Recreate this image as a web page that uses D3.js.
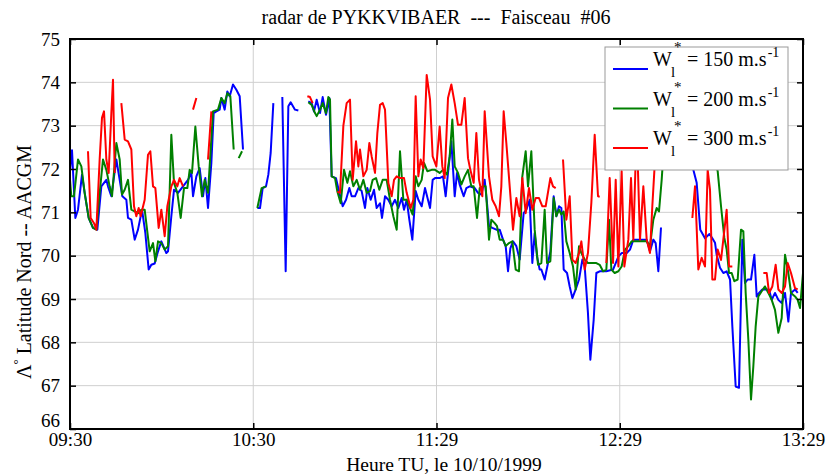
<!DOCTYPE html>
<html><head><meta charset="utf-8">
<script src="https://cdn.jsdelivr.net/npm/d3@7"></script>
<style>body{margin:0;background:#fff}svg{display:block}text{font-family:"Liberation Serif","Times New Roman",serif;fill:#000}</style>
</head><body><svg id="c" width="829" height="476"></svg>
<script>
// time in minutes after 09:30 UT, latitude in degrees AACGM; null = data gap
const tickMinutes = [0, 59.75, 119.5, 179.25, 239];
const tickLabels = ["09:30", "10:30", "11:29", "12:29", "13:29"];
const latTicks = [66, 67, 68, 69, 70, 71, 72, 73, 74, 75];
const seriesNames = ["150", "200", "300"];
const seriesColors = ["#0000ff", "#008000", "#ff0000"];

const blue150 = [
[0,71.98],[0.65,72.43],[1.74,70.87],[2.61,71.06],[3.91,71.87],[4.78,71.45],[6.09,70.87],[7.5,70.64],[8.91,70.6],[10.22,71.6],[11.85,71.75],[12.39,71.6],[13.48,71.37],[15.11,72.22],[16.2,71.75],[17.07,71.37],[18.37,71.29],[18.91,70.87],[20,70.83],[21.09,70.37],[22.17,70.6],[23.48,71.06],[24.57,70.52],[25.65,69.68],[26.52,69.79],[27.61,69.82],[28.7,70.1],[29.78,70.33],[31.41,70.06],[31.96,70.1],[33.04,70.91],[33.91,71.52],[35.22,71.45],[36.85,71.6],[38.48,71.75],[39.57,71.91],[40.11,71.37],[41.2,71.83],[42.28,72.02],[43.37,71.37],[44.13,71.79],[45,71.1],[46.09,72.14],[46.85,73.29],[47.72,73.33],[48.8,73.37],[49.35,73.64],[50.43,73.37],[51.3,73.79],[52.07,73.68],[53.15,73.95],[54.24,73.83],[55.33,73.68],[56.41,72.45],null,
[61.08,71.1],[61.95,71.1],[62.82,71.56],[63.91,71.6],[64.67,71.87],[65.43,72.37],[66.3,73.52],null,
[69.23,73.66],[70.32,69.64],[71.19,73.45],[71.95,73.54],[73.36,73.37],[74.45,73.35],null,
[77.71,73.56],[78.8,73.52],[79.56,73.33],[80.43,73.6],[81.52,73.29],[82.39,73.66],[83.47,73.25],[84.56,73.64],[85.32,71.83],[86.73,71.79],[87.82,71.45],[88.91,71.14],[90,71.29],[91.08,71.56],[91.84,71.37],[92.93,71.37],[94.02,71.56],[95.1,71.49],[96.19,71.1],[96.95,71.56],[98.04,71.29],[99.12,71.52],[99.99,71.1],[101.08,71.21],[101.73,70.87],[102.71,71.37],[103.8,71.29],[104.89,71.14],[105.97,71.29],[107.06,71.1],[108.15,71.33],[108.91,71.06],[109.78,71.29],[110.64,70.83],[111.62,70.37],[112.71,71.49],[113.58,71.29],[114.67,71.14],[115.75,71.56],[117.39,71.1],[118.25,71.75],[119.02,71.79],[120.53,71.79],[121.62,71.83],[122.49,71.37],[123.25,71.91],[124.34,72.64],[125.43,71.37],[126.19,71.91],[127.06,71.64],[128.36,71.37],[129.23,71.56],[130.32,71.6],[131.95,71.56],[133.03,71.45],[134.12,71.41],[135.21,71.75],[135.97,71.21],[136.62,70.68],[137.71,70.64],[139.01,70.6],[140.1,70.6],[141.19,70.37],[142.06,70.22],[142.82,69.64],[143.58,70.17],[144.45,70.33],[145.53,70.22],[146.62,69.91],[147.92,70.98],[148.8,71.06],[149.88,71.29],[150.75,69.83],[151.51,70.52],[152.27,69.98],[153.14,69.68],[153.69,69.68],[154.77,69.45],[155.86,69.83],[156.62,70.1],[157.71,71.37],[158.58,70.91],[159.45,71.14],[160.21,71.1],[160.97,69.68],[162.06,69.6],[162.93,69.29],[163.8,69.02],[164.88,69.22],[165.97,69.45],[167.06,69.91],[167.82,69.75],[168.88,68.68],[169.66,67.6],[170.75,68.52],[171.62,69.6],[172.71,69.64],[174.88,69.64],[177.06,69.68],[177.7,69.79],[178.79,69.98],[179.87,70.06],[181.5,70.06],[182.59,70.14],[183.68,70.37],[184.77,70.37],[186.4,70.37],[188.03,70.37],[189.11,70.1],[190.2,70.37],[190.96,70.29],[191.83,69.64],[192.7,70.65],null,
[203.24,71.98],[204.33,71.68],[205.5,70.6],[207.05,70.4],[208.5,70.5],[209.44,70.4],[210.31,70.3],[210.85,70.02],[211.94,69.72],[213.03,69.6],[214.11,69.64],[215.21,69.45],[215.96,68.37],[217.05,66.98],[218.13,66.95],[219.22,70.37],[220.09,69.37],[220.96,69.45],[222.05,69.45],[223.14,70.02],[223.9,69.06],[224.66,69.14],[225.74,69.22],[226.83,69.22],[227.92,69.22],[228.79,68.98],[229.87,69.14],[230.96,68.98],[232.05,68.91],[233.14,69.14],[234.22,68.48],[235.09,69.14],[236.4,69.22],[237.27,69.14]
];

const green200 = [
[0,71.75],[0.43,71.37],[1.3,71.37],[2.61,72.22],[3.7,72.06],[4.78,71.45],[6.09,70.87],[7.5,70.64],[8.59,70.6],[9.67,71.45],[10.76,72.22],[11.85,71.98],[12.93,71.6],[13.7,71.37],[15.11,72.6],[16.2,72.22],[16.96,71.41],[17.83,71.52],[18.91,71.75],[20,71.06],[21.09,71.02],[22.17,70.98],[23.26,71.06],[24.35,71.06],[25.98,70.1],[27.07,70.29],[27.83,69.87],[28.7,70.33],[29.78,70.29],[30.87,70.14],[31.96,70.22],[33.04,72.79],[33.91,71.68],[35,71.45],[36.09,70.87],[37.17,71.56],[38.26,71.56],[39.02,71.98],[39.78,71.91],[40.87,72.98],[41.96,72.06],[43.04,71.37],[43.91,71.75],[45,71.45],[46.63,73.33],[48.26,73.37],[49.35,73.64],[50.43,73.52],[51.3,73.75],[52.28,73.68],[53.37,72.45],null,
[55,72.25],[56.09,72.41],null,
[61.08,71.1],[62.49,71.56],[63.91,71.6],null,
[77.71,73.54],[78.8,73.48],[79.89,73.29],[80.43,73.22],[81.52,73.37],[82.39,73.52],[83.47,73.29],[84.23,73.66],[84.78,73.6],[85.32,71.83],[86.41,71.79],[87.17,71.48],[88.26,71.21],[89.34,71.98],[90.43,71.68],[91.3,71.95],[92.39,71.6],[93.47,71.75],[94.56,71.52],[95.65,71.75],[96.73,71.45],[97.82,71.49],[98.69,71.75],[99.78,71.79],[100.86,71.52],[101.95,71.75],[103.25,71.75],[104.34,71.29],[105.43,70.91],[106.52,70.6],[107.6,72.41],[108.69,71.29],[109.78,71.29],[110.64,71.14],[111.73,70.95],[112.71,71.83],[113.58,71.6],[114.67,71.75],[115.43,72.14],[116.51,71.95],[117.93,71.98],[119.02,71.98],[120.53,71.91],[121.62,71.98],[122.93,71.87],[123.8,72.29],[124.66,73.14],[125.43,72.06],[126.51,71.91],[127.6,71.64],[128.69,71.83],[129.77,71.98],[130.86,71.6],[131.62,71.6],[132.71,70.87],[133.58,71.56],[134.66,71.6],[135.53,71.6],[136.62,70.37],[137.38,70.83],[138.47,70.75],[139.23,70.68],[140.1,70.37],[141.19,70.37],[142.06,70.22],[143.14,70.29],[144.23,70.33],[145.32,69.68],[146.4,69.64],[147.49,71.83],[148.58,72.41],[149.34,71.6],[150.42,72.41],[151.51,70.6],[152.6,69.79],[153.69,69.83],[154.77,71.06],[155.53,69.83],[156.62,69.87],[157.71,71.33],[158.58,70.91],[159.45,71.06],[160.21,70.95],[160.97,71.02],[161.84,70.33],[162.93,70.06],[164.01,69.75],[164.88,69.22],[165.97,70.22],[166.73,70.06],[167.82,69.91],[168.88,69.83],[169.99,69.83],[171.62,69.83],[172.71,69.79],[173.8,69.64],[174.88,69.68],[175.75,70.83],[176.51,69.68],[177.6,69.6],[178.79,69.64],[179.87,69.75],[180.96,70.14],[182.05,70.22],[183.13,70.33],[184.77,70.33],[186.4,70.33],[188.03,70.33],[189.11,70.22],[190.2,70.83],[191.29,71.1],[192.05,71.02],[192.92,71.75],[193.79,72.68],null,
[210.31,72.2],[211.18,71.95],[212.27,71.14],[213.35,70.41],[214.11,70.14],[214.88,69.6],[215.75,69.6],[216.61,69.41],[217.7,69.45],[218.79,70.6],[219.55,70.56],[220.31,69.14],[221.18,68.06],[222.05,66.68],[222.81,67.45],[223.57,68.37],[224.44,69.06],[225.53,69.18],[226.61,69.29],[227.7,69.14],[228.79,68.98],[229.87,68.75],[230.96,68.22],[232.05,68.56],[233.14,70.02],[234.22,69.6],[235.09,69.14],[236.4,69.06],[237.27,68.98],[238.03,68.79],[239,69.6]
];

const red300 = [
[5.87,72.41],[6.74,70.87],[7.83,70.75],[8.59,70.6],[9.67,72.22],[10.43,73.18],[11.09,73.33],[11.85,72.22],[12.61,71.91],[13.48,73.29],[14.02,74.06],[14.57,71.91],null,
[16.74,73.52],[17.83,72.68],[18.91,72.64],[20,72.45],[20.87,71.14],[21.63,70.91],[22.39,71.1],[23.04,70.91],[24.35,71.29],[25.43,72.33],[26.2,72.41],[27.07,71.6],[27.83,71.56],[28.91,70.64],[29.78,71.06],[30.87,70.45],[31.74,71.14],[33.04,71.6],[33.91,71.75],[35,71.6],[35.76,71.79],[36.85,71.6],null,
[40.11,73.37],[41.2,73.64],null,
[45,72.22],[46.09,73.33],null,
[77.39,73.68],[78.25,73.66],[79.12,73.52],null,
[87.17,71.48],[88.04,71.45],[89.13,73.0],[90.21,73.52],[91.3,73.6],[92.17,71.75],[93.26,72.64],[94.02,72.06],[94.56,72.45],[95.65,71.83],[96.73,71.98],[97.6,72.6],[98.36,72.29],[99.45,71.91],[100.21,72.83],[101.08,73.48],[101.95,73.52],[102.71,73.37],[103.8,71.68],[104.89,71.37],[105.65,71.75],[106.52,71.83],[107.6,71.79],[108.91,71.79],[109.78,71.45],[111.08,71.1],[111.95,71.29],[112.71,73.68],[113.58,71.83],[114.34,72.22],[115.21,72.02],[116.3,74.17],[117.39,73.6],[118.25,72.29],[119.45,72.06],[120.53,72.98],[121.4,72.06],[122.16,71.79],[123.25,73.64],[124.34,73.95],[125.43,73.52],[126.51,73.02],[127.6,73.02],[128.69,73.64],[129.77,72.25],[130.53,71.98],[131.62,71.68],[132.49,72.83],[133.36,71.75],[134.45,71.37],[135.21,73.33],[136.62,71.83],[137.71,71.29],[138.8,71.14],[139.88,70.91],[140.64,71.6],[141.4,73.33],[142.27,72.6],[143.36,71.6],[144.45,70.6],[145.53,71.33],[146.62,70.91],[147.49,71.79],[148.58,70.98],[149.66,71.56],[150.75,71.06],[151.84,71.33],[152.93,71.33],[154.01,71.14],[155.1,71.14],[156.62,71.79],[157.49,71.6],[158.36,71.56],null,
[160.75,72.22],[161.84,70.83],[162.93,71.37],[163.8,69.91],[164.88,69.83],[165.97,70.06],[166.73,70.33],[167.82,69.68],[168.88,70.06],[169.99,71.22],[171.08,72.79],[172.16,71.37],[172.71,71.36],null,
[174.88,69.83],[175.97,71.79],[177.06,69.83],[177.93,71.75],[178.79,69.75],[179.87,71.95],[180.74,69.75],[182.05,70.37],[182.92,71.79],[183.68,70.37],[184.44,72.2],[185.09,72.2],[185.85,70.37],[186.94,71.6],[188.03,70.37],[189.11,70.06],[189.87,71.14],[190.53,71.95],[191.2,72.8],null,
[202.92,70.87],[203.79,71.6],[204.87,69.68],[205.96,69.95],[207.05,69.75],[207.92,71.98],[208.68,71.52],[209.44,69.45],[210.31,69.45],[211.18,70.14],[212.27,69.9],[214.11,71.06],[214.88,69.75],[215.96,69.75],null,
[226.07,69.6],[227.16,69.6],[227.92,69.14],[229,69.29],[230.09,69.79],[230.96,69.22],[232.05,69.14],[233.14,69.29],[234.01,69.83],[235.09,69.6],[236.4,69.25],[237.27,69.22]
];

const allSeries = [blue150, green200, red300];

const svg = d3.select("#c");
const L = 70, R = 803, T = 39, B = 429;
const x = d3.scaleLinear().domain([0, 239]).range([L, R]);
const y = d3.scaleLinear().domain([66, 75]).range([B, T]);

// grid
const grid = svg.append("g").attr("stroke", "#cfcfcf").attr("stroke-width", 1);
grid.selectAll(".h").data(latTicks.slice(1, -1)).enter().append("line")
  .attr("x1", L).attr("x2", R).attr("y1", d => y(d)).attr("y2", d => y(d));
grid.selectAll(".v").data(tickMinutes.slice(1, -1)).enter().append("line")
  .attr("y1", T).attr("y2", B).attr("x1", d => x(d)).attr("x2", d => x(d));

// series
const line = d3.line().defined(d => d !== null).x(d => x(d[0])).y(d => y(d[1]));
const plot = svg.append("g");
allSeries.forEach((s, i) => {
  plot.append("path").attr("d", line(s)).attr("fill", "none")
    .attr("stroke", seriesColors[i]).attr("stroke-width", 2).attr("stroke-linejoin", "round");
});

// axes
const fmt = (d) => tickLabels[tickMinutes.indexOf(d)];
const ax = svg.append("g");
const gB = ax.append("g").attr("transform", `translate(0,${B})`)
  .call(d3.axisBottom(x).tickValues(tickMinutes).tickFormat(fmt).tickSizeInner(-6).tickSizeOuter(0).tickPadding(4));
const gT = ax.append("g").attr("transform", `translate(0,${T})`)
  .call(d3.axisTop(x).tickValues(tickMinutes).tickFormat("").tickSizeInner(-6).tickSizeOuter(0));
const gL = ax.append("g").attr("transform", `translate(${L},0)`)
  .call(d3.axisLeft(y).tickValues(latTicks).tickFormat(d3.format("d")).tickSizeInner(-6).tickSizeOuter(0).tickPadding(10));
const gR = ax.append("g").attr("transform", `translate(${R},0)`)
  .call(d3.axisRight(y).tickValues(latTicks).tickFormat("").tickSizeInner(-6).tickSizeOuter(0));
[gB, gT, gL, gR].forEach(g => {
  g.attr("font-size", 19).attr("font-family", "Liberation Serif");
  g.select(".domain").remove();
  g.selectAll(".tick line").attr("stroke", "#000").attr("stroke-width", 1.5);
  g.selectAll("text").attr("fill", "#000");
});
gL.selectAll(".tick text").attr("dy", d => d === 66 ? "-0.12em" : "0.32em");
svg.append("rect").attr("x", L).attr("y", T).attr("width", R - L).attr("height", B - T)
  .attr("fill", "none").attr("stroke", "#000").attr("stroke-width", 2);

// legend
const lg = svg.append("g");
lg.append("rect").attr("x", 605).attr("y", 47).attr("width", 183).attr("height", 123)
  .attr("fill", "#fff").attr("stroke", "#999").attr("stroke-width", 1);
seriesNames.forEach((n, i) => {
  const ly = 69 + i * 39.5;
  lg.append("line").attr("x1", 613).attr("x2", 648).attr("y1", ly).attr("y2", ly)
    .attr("stroke", seriesColors[i]).attr("stroke-width", 2);
  const t = lg.append("text").attr("y", ly - 3).style("font-size", "20px");
  t.append("tspan").attr("x", 653).text("W");
  t.append("tspan").attr("x", 671).attr("y", ly + 8).style("font-size", "15px").text("l");
  t.append("tspan").attr("x", 674).attr("y", ly - 17).style("font-size", "15px").text("*");
  t.append("tspan").attr("x", 687).attr("y", ly - 3).text(`= ${n} m.s`);
  t.append("tspan").attr("dx", 1).attr("y", ly - 12).style("font-size", "14px").text("-1");
});

// titles
svg.append("text").attr("x", 436).attr("y", 24).attr("text-anchor", "middle")
  .style("font-size", "20px").style("white-space", "pre")
  .text("radar de PYKKVIBAER  ---  Faisceau  #06");
svg.append("text").attr("x", 444).attr("y", 471).attr("text-anchor", "middle")
  .style("font-size", "19.5px").text("Heure TU, le 10/10/1999");
const yl = svg.append("text").attr("transform", "translate(31,262) rotate(-90)")
  .attr("text-anchor", "middle").style("font-size", "20px").style("white-space", "pre");
yl.append("tspan").text("Λ");
yl.append("tspan").attr("dy", -9).style("font-size", "13px").text("°");
yl.append("tspan").attr("dy", 9).text(" Latitude Nord -- AACGM");
</script></body></html>
